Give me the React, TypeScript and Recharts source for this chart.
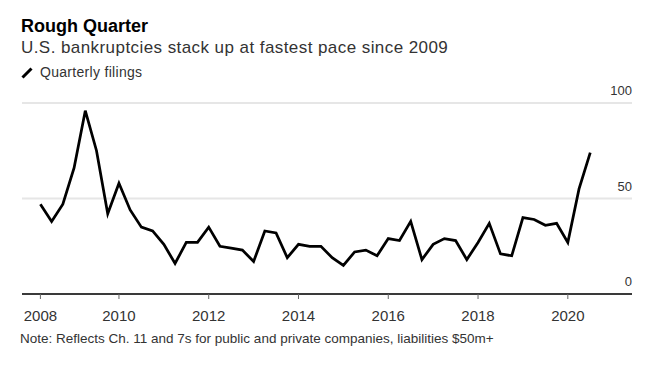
import React from "react";
import { LineChart, Line, XAxis, YAxis, CartesianGrid } from "recharts";

const quarters = [
  "2008Q1", "2008Q2", "2008Q3", "2008Q4",
  "2009Q1", "2009Q2", "2009Q3", "2009Q4",
  "2010Q1", "2010Q2", "2010Q3", "2010Q4",
  "2011Q1", "2011Q2", "2011Q3", "2011Q4",
  "2012Q1", "2012Q2", "2012Q3", "2012Q4",
  "2013Q1", "2013Q2", "2013Q3", "2013Q4",
  "2014Q1", "2014Q2", "2014Q3", "2014Q4",
  "2015Q1", "2015Q2", "2015Q3", "2015Q4",
  "2016Q1", "2016Q2", "2016Q3", "2016Q4",
  "2017Q1", "2017Q2", "2017Q3", "2017Q4",
  "2018Q1", "2018Q2", "2018Q3", "2018Q4",
  "2019Q1", "2019Q2", "2019Q3", "2019Q4",
  "2020Q1", "2020Q2",
];

const filings = [
  47, 38, 47, 66,
  96, 75, 42, 58,
  44, 35, 33, 26,
  16, 27, 27, 35,
  25, 24, 23, 17,
  33, 32, 19, 26,
  25, 25, 19, 15,
  22, 23, 20, 29,
  28, 38, 18, 26,
  29, 28, 18, 27,
  37, 21, 20, 40,
  39, 36, 37, 27,
  55, 74,
];

const xTickValues = [2008.25, 2010, 2012, 2014, 2016, 2018, 2020];
const xTickLabels = ["2008", "2010", "2012", "2014", "2016", "2018", "2020"];
const yTickValues = [0, 50, 100];

// quarter-end position on a decimal-year scale
const data = quarters.map((q, i) => {
  const year = parseInt(q.slice(0, 4), 10);
  const qn = parseInt(q.slice(5), 10);
  return { quarter: q, t: year + qn / 4, filings: filings[i] };
});

const FONT = '"Liberation Sans", Arial, Helvetica, sans-serif';

const YTick = (props: any) => {
  const { x, y, payload } = props;
  return (
    <text x={x} y={y - 8} textAnchor="end" fontSize={13} fill="#333" fontFamily={FONT}>
      {payload.value}
    </text>
  );
};

export default function App() {
  return (
    <div
      style={{
        position: "fixed",
        left: 0,
        top: 0,
        width: 646,
        height: 372,
        background: "#fff",
        fontFamily: FONT,
        overflow: "hidden",
      }}
    >
      <div
        style={{
          position: "absolute",
          left: 21,
          top: 17,
          fontSize: 18,
          lineHeight: "18px",
          fontWeight: 700,
          color: "#000",
          whiteSpace: "nowrap",
        }}
      >
        Rough Quarter
      </div>
      <div
        style={{
          position: "absolute",
          left: 21,
          top: 39,
          fontSize: 17,
          lineHeight: "17px",
          letterSpacing: 0.43,
          color: "#333",
          whiteSpace: "nowrap",
        }}
      >
        U.S. bankruptcies stack up at fastest pace since 2009
      </div>
      <div
        style={{
          position: "absolute",
          left: 20,
          top: 64,
          height: 15,
          display: "flex",
          alignItems: "center",
          fontSize: 14,
          lineHeight: "14px",
          letterSpacing: 0.3,
          color: "#333",
          whiteSpace: "nowrap",
        }}
      >
        <svg width={14} height={14} style={{ marginRight: 6 }}>
          <line x1={2.5} y1={12.5} x2={11.5} y2={3.5} stroke="#000" strokeWidth={3} />
        </svg>
        <span>Quarterly filings</span>
      </div>

      <div style={{ position: "absolute", left: 0, top: 0 }}>
        <LineChart
          width={646}
          height={372}
          data={data}
          margin={{ top: 103, right: 13, bottom: 48, left: 22 }}
        >
          <CartesianGrid
            horizontal={true}
            vertical={false}
            stroke="#e6e6e6"
            strokeWidth={2}
          />
          <XAxis
            dataKey="t"
            type="number"
            domain={[2007.84, 2021.43]}
            ticks={xTickValues}
            tickFormatter={(v: number) => xTickLabels[xTickValues.indexOf(v)]}
            height={30}
            axisLine={{ stroke: "#000", strokeWidth: 1.5 }}
            tickLine={{ stroke: "#666", strokeWidth: 1 }}
            tickSize={5}
            tickMargin={11}
            tick={{ fontSize: 15, fill: "#333", fontFamily: FONT }}
            allowDataOverflow={true}
            interval={0}
          />
          <YAxis
            orientation="right"
            type="number"
            domain={[0, 100]}
            ticks={yTickValues}
            width={1}
            axisLine={false}
            tickLine={false}
            tickSize={0}
            tickMargin={0}
            tick={YTick}
            interval={0}
          />
          <Line
            type="linear"
            dataKey="filings"
            stroke="#000"
            strokeWidth={2.75}
            dot={false}
            isAnimationActive={false}
          />
        </LineChart>
      </div>

      <div
        style={{
          position: "absolute",
          left: 20,
          top: 332,
          fontSize: 13.5,
          lineHeight: "13.5px",
          color: "#333",
          whiteSpace: "nowrap",
        }}
      >
        Note: Reflects Ch. 11 and 7s for public and private companies, liabilities $50m+
      </div>
    </div>
  );
}
